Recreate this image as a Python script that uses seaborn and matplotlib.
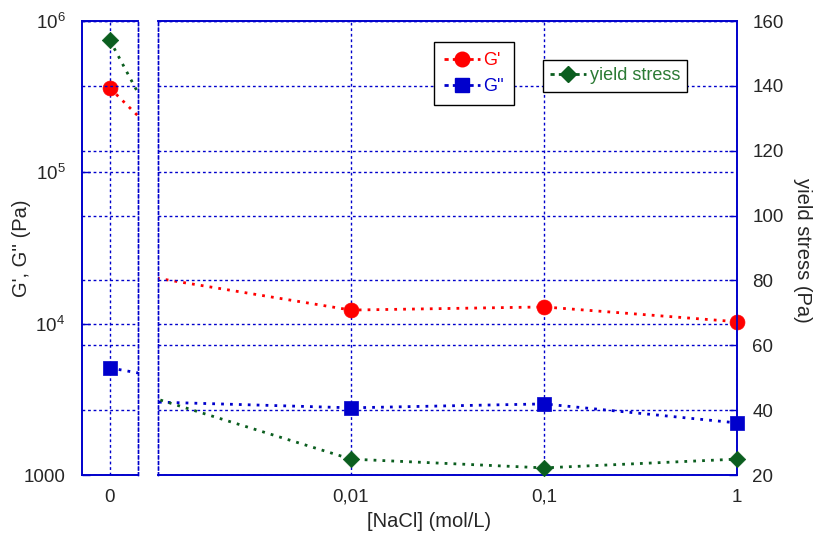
"""Storage/loss modulus and yield stress versus NaCl concentration (broken x axis)."""

import matplotlib.pyplot as plt
import pandas as pd
import seaborn as sns
from matplotlib.lines import Line2D
from matplotlib.ticker import FixedLocator, NullLocator

# data
nacl = [0, 0.01, 0.1, 1]
g_storage = [3.6e5, 1.23e4, 1.29e4, 1.03e4]
g_loss = [5100, 2780, 2950, 2210]
yield_stress = [154, 24.9, 22.2, 24.9]

x_ticks = [0.01, 0.1, 1]
x_tick_labels = ["0,01", "0,1", "1"]
g_ticks = [1e3, 1e4, 1e5, 1e6]
g_tick_labels = ["1000", "$10^4$", "$10^5$", "$10^6$"]
ys_ticks = [20, 40, 60, 80, 100, 120, 140, 160]

# broken axis: where the 0 sample sits on the log panel, and where 0,01 sits on the "0" panel
ZERO_ON_LOG = 1e-9
NEXT_ON_ZERO = 8

RED = "#ff0000"
BLUE = "#0000cc"
GREEN = "#0b5e1f"
GREEN_TEXT = "#2b7a34"
LS = (0, (1.0, 2.2))
TICK_FS = 13.5
LABEL_FS = 14.5

sns.set_style("white")
plt.rcParams["font.family"] = ["Liberation Sans", "DejaVu Sans"]
plt.rcParams["mathtext.fontset"] = "custom"
plt.rcParams["mathtext.rm"] = "Liberation Sans"
plt.rcParams["mathtext.it"] = "Liberation Sans:italic"

df = pd.DataFrame({"nacl": nacl, "gp": g_storage, "gpp": g_loss, "ys": yield_stress})
df["x_log"] = df["nacl"].where(df["nacl"] > 0, ZERO_ON_LOG)
df["x_zero"] = [0, NEXT_ON_ZERO, 10 * NEXT_ON_ZERO, 100 * NEXT_ON_ZERO]

fig = plt.figure(figsize=(8.14, 5.33), dpi=100)
ax_l = fig.add_axes([0.1007, 0.1088, 0.0688, 0.8518])
ax_r = fig.add_axes([0.1941, 0.1088, 0.7113, 0.8518])
ax_l2 = ax_l.twinx()
ax_r2 = ax_r.twinx()

# (column, colour, marker, marker area in pt^2, which axis: 0 = modulus, 1 = yield)
series = [
    ("gp", RED, "o", 115, 0),
    ("gpp", BLUE, "s", 115, 0),
    ("ys", GREEN, "D", 70, 1),
]


def draw(ax, ax2, xcol, shown):
    for col, color, marker, size, which in series:
        target = ax2 if which else ax
        sns.lineplot(data=df, x=xcol, y=col, ax=target, color=color, lw=2,
                     linestyle=LS, sort=False, zorder=5)
        sns.scatterplot(data=df[shown], x=xcol, y=col, ax=target, color=color,
                        marker=marker, s=size, edgecolor=color, linewidth=0.5,
                        zorder=6, clip_on=False)
    ax.set_yscale("log")
    ax.set_ylim(1e3, 1e6)
    ax2.set_ylim(20, 160)
    ax.yaxis.set_major_locator(FixedLocator(g_ticks))
    ax.yaxis.set_minor_locator(NullLocator())
    ax2.yaxis.set_major_locator(FixedLocator(ys_ticks))
    for a in (ax, ax2):
        a.set_xlabel("")
        a.set_ylabel("")
        a.grid(True, color=BLUE, linestyle=(0, (2, 2)), lw=1)
        a.tick_params(direction="in", length=6, color=BLUE, width=1, labelsize=TICK_FS)
        for sp in a.spines.values():
            sp.set_color(BLUE)
            sp.set_linewidth(1.2)
    ax2.grid(True, axis="y", color=BLUE, linestyle=(0, (2, 2)), lw=1)
    ax2.grid(False, axis="x")


draw(ax_l, ax_l2, "x_zero", df["nacl"] == 0)
draw(ax_r, ax_r2, "x_log", df["nacl"] > 0)

# "0" panel
ax_l.set_xlim(-1, 1)
ax_l.set_xticks([0])
ax_l.set_xticklabels(["0"])
ax_l.set_yticklabels(g_tick_labels)
ax_l.tick_params(axis="y", right=False, pad=12)
ax_l2.tick_params(axis="y", right=False, labelright=False)
for a in (ax_l, ax_l2):
    a.spines["right"].set_linestyle((0, (2, 2)))
    a.spines["right"].set_linewidth(1)

# log panel
ax_r.set_xscale("log")
ax_r.set_xlim(1e-3, 1)
ax_r.xaxis.set_major_locator(FixedLocator(x_ticks))
ax_r.xaxis.set_minor_locator(NullLocator())
ax_r.set_xticklabels(x_tick_labels)
ax_r.tick_params(axis="y", left=False, labelleft=False)
for a in (ax_r, ax_r2):
    a.spines["left"].set_linestyle((0, (2, 2)))
    a.spines["left"].set_linewidth(1)
ax_r2.tick_params(axis="y", right=True, labelright=True, pad=11)

for a in (ax_l, ax_r):
    a.tick_params(axis="x", pad=10)

fig.text(0.027, 0.535, "G', G'' (Pa)", rotation=90, ha="center", va="center", fontsize=LABEL_FS)
fig.text(0.986, 0.531, "yield stress (Pa)", rotation=270, ha="center", va="center", fontsize=LABEL_FS)
fig.text(0.527, 0.021, "[NaCl] (mol/L)", ha="center", va="center", fontsize=LABEL_FS)

# legends
h_gp = Line2D([], [], color=RED, marker="o", markersize=10.5, lw=2, linestyle=(0, (1.5, 1.5)))
h_gpp = Line2D([], [], color=BLUE, marker="s", markersize=10.5, lw=2, linestyle=(0, (1.5, 1.5)))
h_ys = Line2D([], [], color=GREEN, marker="D", markersize=8, lw=2, linestyle=(0, (1.5, 1.5)))

leg1 = ax_r2.legend([h_gp, h_gpp], ["G'", "G''"], loc="upper left",
                    bbox_to_anchor=(0.533, 0.921), bbox_transform=fig.transFigure,
                    fontsize=13, frameon=True, fancybox=False, edgecolor="black",
                    framealpha=1, handlelength=2.0, handletextpad=0.2,
                    borderpad=0.55, labelspacing=0.5, borderaxespad=0)
for t, c in zip(leg1.get_texts(), [RED, BLUE]):
    t.set_color(c)
leg1.get_frame().set_linewidth(1)
ax_r2.add_artist(leg1)

leg2 = ax_r2.legend([h_ys], ["yield stress"], loc="upper left",
                    bbox_to_anchor=(0.667, 0.887), bbox_transform=fig.transFigure,
                    fontsize=13, frameon=True, fancybox=False, edgecolor="black",
                    framealpha=1, handlelength=2.0, handletextpad=0.2,
                    borderpad=0.4, borderaxespad=0)
leg2.get_texts()[0].set_color(GREEN_TEXT)
leg2.get_frame().set_linewidth(1)

fig.savefig("out.png", dpi=100)
